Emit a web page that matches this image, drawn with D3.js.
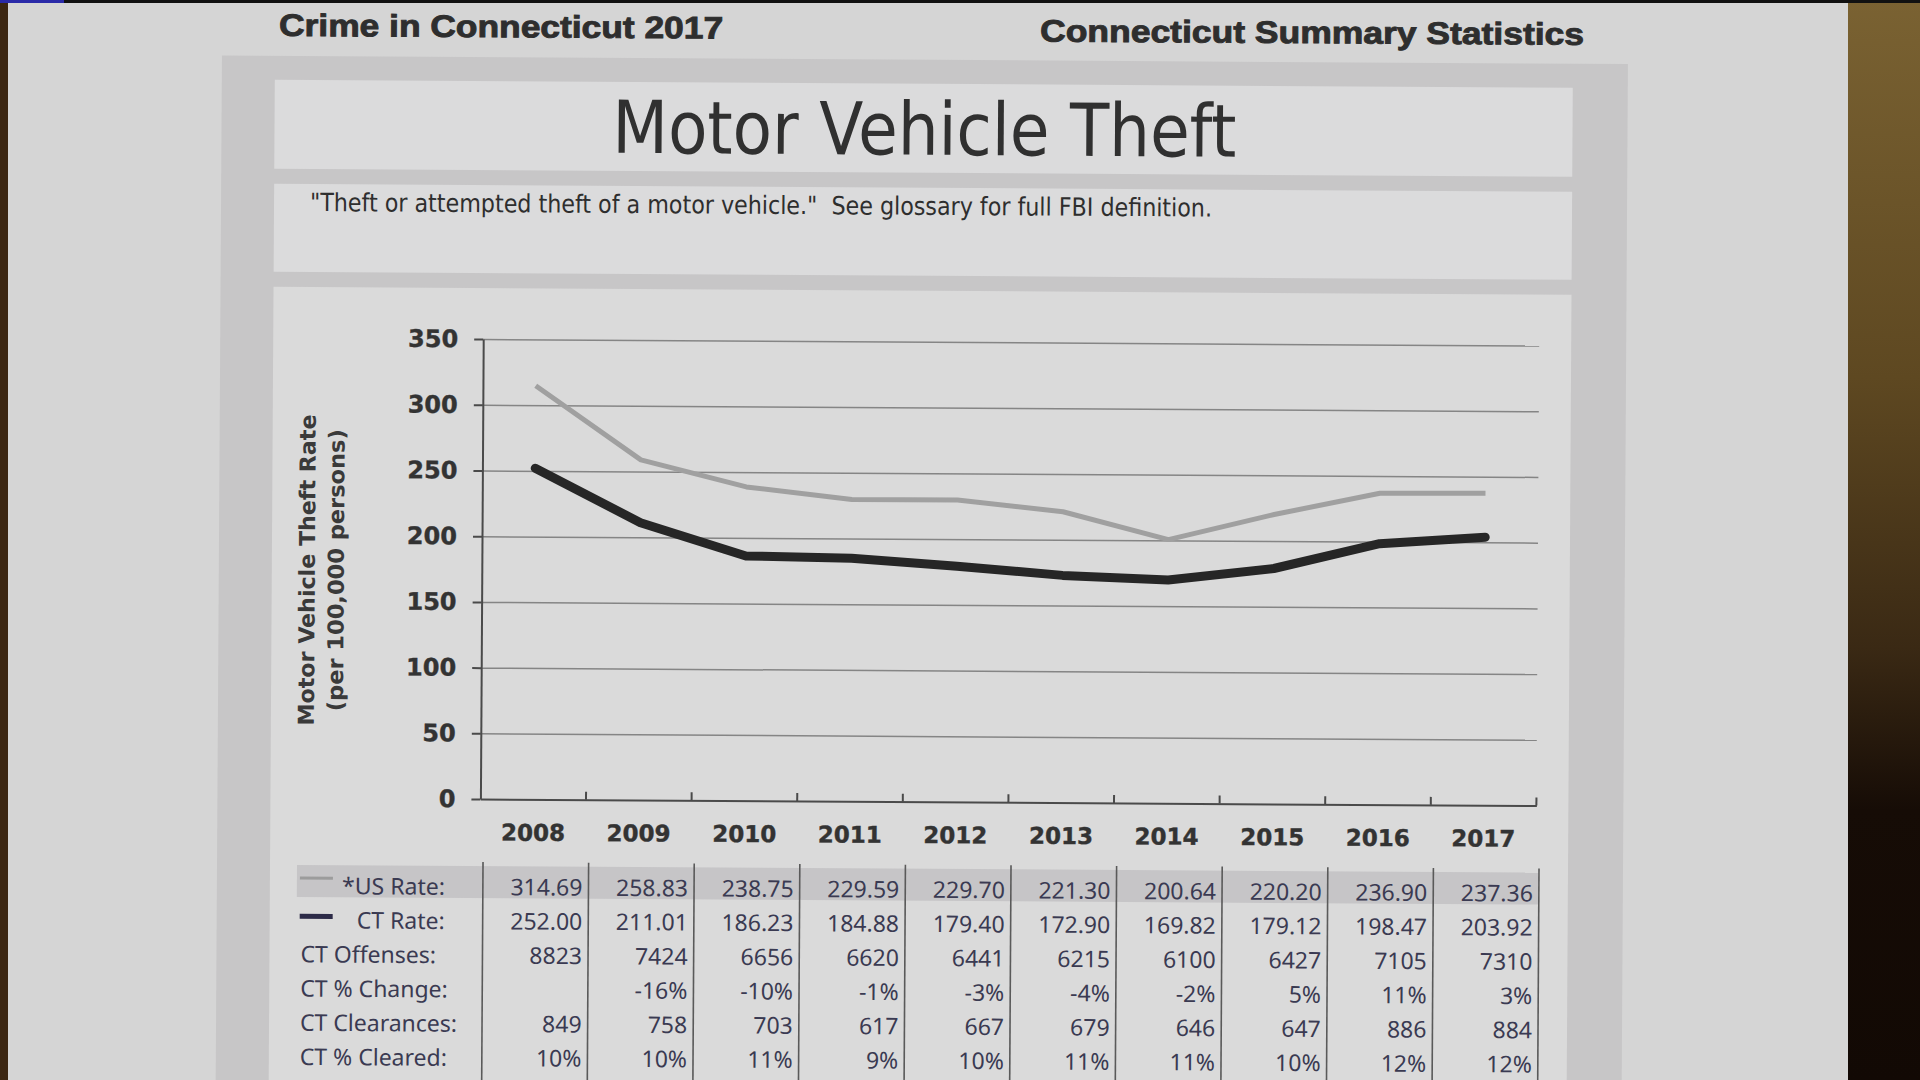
<!DOCTYPE html>
<html><head><meta charset="utf-8">
<script src="https://cdn.jsdelivr.net/npm/d3@7"></script>
<style>html,body{margin:0;padding:0;overflow:hidden;background:#d5d5d5}</style>
</head><body>
<svg id="c" width="1920" height="1080"></svg>
<script>
// ---------- DATA ----------
const years = ["2008","2009","2010","2011","2012","2013","2014","2015","2016","2017"];
const usRate = [314.69,258.83,238.75,229.59,229.70,221.30,200.64,220.20,236.90,237.36];
const ctRate = [252.00,211.01,186.23,184.88,179.40,172.90,169.82,179.12,198.47,203.92];
const ctOffenses = [8823,7424,6656,6620,6441,6215,6100,6427,7105,7310];
const ctChange = ["","-16%","-10%","-1%","-3%","-4%","-2%","5%","11%","3%"];
const ctClearances = [849,758,703,617,667,679,646,647,886,884];
const ctCleared = ["10%","10%","11%","9%","10%","11%","11%","10%","12%","12%"];
const yTicks = [0,50,100,150,200,250,300,350];
const rowLabels = ["*US Rate:","CT Rate:","CT Offenses:","CT % Change:","CT Clearances:","CT % Cleared:"];

const svg = d3.select("#c");
const defs = svg.append("defs");
const bg = defs.append("linearGradient").attr("id","brown").attr("x1",0).attr("y1",0).attr("x2",0).attr("y2",1);
bg.append("stop").attr("offset","0%").attr("stop-color","#7a6232");
bg.append("stop").attr("offset","35%").attr("stop-color","#5e4821");
bg.append("stop").attr("offset","60%").attr("stop-color","#3a2914");
bg.append("stop").attr("offset","75%").attr("stop-color","#160c06");
bg.append("stop").attr("offset","100%").attr("stop-color","#120904");

// paper & surroundings
svg.append("rect").attr("width",1920).attr("height",1080).attr("fill","#d5d5d5");
svg.append("rect").attr("x",1848).attr("y",0).attr("width",72).attr("height",1080).attr("fill","url(#brown)");
svg.append("rect").attr("x",0).attr("y",0).attr("width",8).attr("height",1080).attr("fill","#3b2612");
svg.append("rect").attr("x",0).attr("y",0).attr("width",1920).attr("height",3).attr("fill","#111");
svg.append("rect").attr("x",0).attr("y",0).attr("width",64).attr("height",3).attr("fill","#2a2aa8");

const g = svg.append("g").attr("transform","rotate(0.35 960 540)");

// frames
g.append("rect").attr("x",219).attr("y",60).attr("width",1406).attr("height",1100).attr("fill","#c7c6c7");
g.append("rect").attr("x",272).attr("y",84).attr("width",1298).attr("height",89).attr("fill","#dbdbdc");
g.append("rect").attr("x",272).attr("y",188).attr("width",1298).attr("height",88).attr("fill","#dbdbdc");
g.append("rect").attr("x",272).attr("y",291).attr("width",1298).attr("height",900).attr("fill","#dadada");

// headers
g.append("text").attr("x",276).attr("y",40).attr("textLength",444).attr("lengthAdjust","spacingAndGlyphs")
  .attr("font-family","Liberation Sans, Arial, sans-serif").attr("font-weight","bold").attr("font-size",31)
  .attr("fill","#2e2e2e").attr("stroke","#2e2e2e").attr("stroke-width",0.9).text("Crime in Connecticut 2017");
g.append("text").attr("x",1037).attr("y",41).attr("textLength",544).attr("lengthAdjust","spacingAndGlyphs")
  .attr("font-family","Liberation Sans, Arial, sans-serif").attr("font-weight","bold").attr("font-size",31)
  .attr("fill","#2e2e2e").attr("stroke","#2e2e2e").attr("stroke-width",0.9).text("Connecticut Summary Statistics");

// title & subtitle
g.append("text").attr("x",922).attr("y",155).attr("text-anchor","middle").attr("textLength",624).attr("lengthAdjust","spacingAndGlyphs")
  .attr("font-family","DejaVu Sans, Verdana, sans-serif").attr("font-size",73).attr("fill","#303030").text("Motor Vehicle Theft");
g.append("text").attr("x",308).attr("y",215).attr("textLength",902).attr("lengthAdjust","spacingAndGlyphs")
  .attr("font-family","DejaVu Sans, Verdana, sans-serif").attr("font-size",25).attr("fill","#2e2e2e")
  .attr("xml:space","preserve")
  .text("\"Theft or attempted theft of a motor vehicle.\"  See glossary for full FBI definition.");

// scales
const x = d3.scaleBand().domain(years).range([482,1538]).padding(0);
const y = d3.scaleLinear().domain([0,350]).range([802,342]);
const cx = d => x(d) + x.bandwidth()/2;

// gridlines
const grid = g.append("g").attr("transform",`translate(${x.range()[0]},0)`)
  .call(d3.axisLeft(y).tickValues(yTicks.filter(v=>v>0)).tickSize(-(x.range()[1]-x.range()[0])).tickFormat(""));
grid.select(".domain").remove();
grid.selectAll("line").attr("stroke","#858585").attr("stroke-width",1.5);

// y axis
const ya = g.append("g").attr("transform",`translate(${x.range()[0]},0)`)
  .call(d3.axisLeft(y).tickValues(yTicks).tickSizeInner(9).tickSizeOuter(0).tickPadding(16));
ya.select(".domain").attr("stroke","#4a4a4a").attr("stroke-width",2);
ya.selectAll("line").attr("stroke","#4a4a4a").attr("stroke-width",2);
ya.selectAll("text").attr("font-family","DejaVu Sans, Verdana, sans-serif").attr("font-weight","bold")
  .attr("font-size",24).attr("fill","#333").attr("stroke","#333").attr("stroke-width",0.4);

// x axis
const xa = g.append("g").attr("transform",`translate(0,${y(0)})`)
  .call(d3.axisBottom(x).tickSize(0).tickPadding(25));
xa.select(".domain").attr("stroke","#4a4a4a").attr("stroke-width",2);
xa.selectAll("text").attr("font-family","DejaVu Sans, Verdana, sans-serif").attr("font-weight","bold")
  .attr("font-size",23).attr("fill","#333").attr("stroke","#333").attr("stroke-width",0.4);
const bounds = years.slice(1).map(d=>x(d)).concat([x.range()[1]]);
g.append("g").selectAll("line").data(bounds).join("line")
  .attr("x1",d=>d).attr("x2",d=>d).attr("y1",y(0)).attr("y2",y(0)-8)
  .attr("stroke","#4a4a4a").attr("stroke-width",2);

// y axis title
const yt = g.append("text").attr("transform","translate(315,574) rotate(-90)").attr("text-anchor","middle")
  .attr("font-family","DejaVu Sans, Verdana, sans-serif").attr("font-weight","bold").attr("font-size",22).attr("fill","#3a3a3a");
yt.append("tspan").attr("x",0).attr("y",0).attr("textLength",311).attr("lengthAdjust","spacingAndGlyphs").text("Motor Vehicle Theft Rate");
yt.append("tspan").attr("x",0).attr("y",29).attr("textLength",282).attr("lengthAdjust","spacingAndGlyphs").text("(per 100,000 persons)");

// lines
const line = d3.line().x(d=>cx(d[0])).y(d=>y(d[1]));
g.append("path").datum(years.map((d,i)=>[d,usRate[i]])).attr("d",line)
  .attr("fill","none").attr("stroke","#a0a0a0").attr("stroke-width",5).attr("stroke-linejoin","round");
g.append("path").datum(years.map((d,i)=>[d,ctRate[i]])).attr("d",line)
  .attr("fill","none").attr("stroke","#262626").attr("stroke-width",9).attr("stroke-linejoin","round").attr("stroke-linecap","round");

// table
const f2 = d3.format(".2f");
const rows = [usRate.map(f2), ctRate.map(f2), ctOffenses.map(String), ctChange, ctClearances.map(String), ctCleared];
const t = g.append("g").attr("transform","translate(3,0)");
const row0 = 898, rowStep = 34.2;
t.append("rect").attr("x",296).attr("y",row0-29).attr("width",x.range()[1]-296).attr("height",32).attr("fill","#c6c5c7");
t.selectAll("line.sep").data([x.range()[0]].concat(bounds)).join("line").attr("class","sep")
  .attr("x1",d=>d).attr("x2",d=>d).attr("y1",row0-33).attr("y2",1120)
  .attr("stroke","#5a5a5a").attr("stroke-width",1.6);
// legend swatches
t.append("line").attr("x1",299).attr("x2",332).attr("y1",row0-16).attr("y2",row0-16).attr("stroke","#9c9c9c").attr("stroke-width",3);
t.append("line").attr("x1",299).attr("x2",332).attr("y1",row0+rowStep-12).attr("y2",row0+rowStep-12).attr("stroke","#2d2b48").attr("stroke-width",5);
// row labels
t.selectAll("text.lbl").data(rowLabels).join("text").attr("class","lbl")
  .attr("x",(d,i)=> i<2 ? 444 : 300).attr("y",(d,i)=>row0+i*rowStep)
  .attr("text-anchor",(d,i)=> i<2 ? "end" : "start")
  .attr("font-family","Noto Sans, Tahoma, sans-serif").attr("font-size",23).attr("fill","#3a3a52").text(d=>d);
// values
rows.forEach((vals,ri)=>{
  t.append("g").selectAll("text").data(vals).join("text")
    .attr("x",(d,i)=>x(years[i])+x.bandwidth()-6).attr("y",row0+ri*rowStep)
    .attr("text-anchor","end").attr("font-family","Noto Sans, Tahoma, sans-serif").attr("font-size",23)
    .attr("fill","#3a3a52").text(d=>d);
});
</script>
</body></html>
